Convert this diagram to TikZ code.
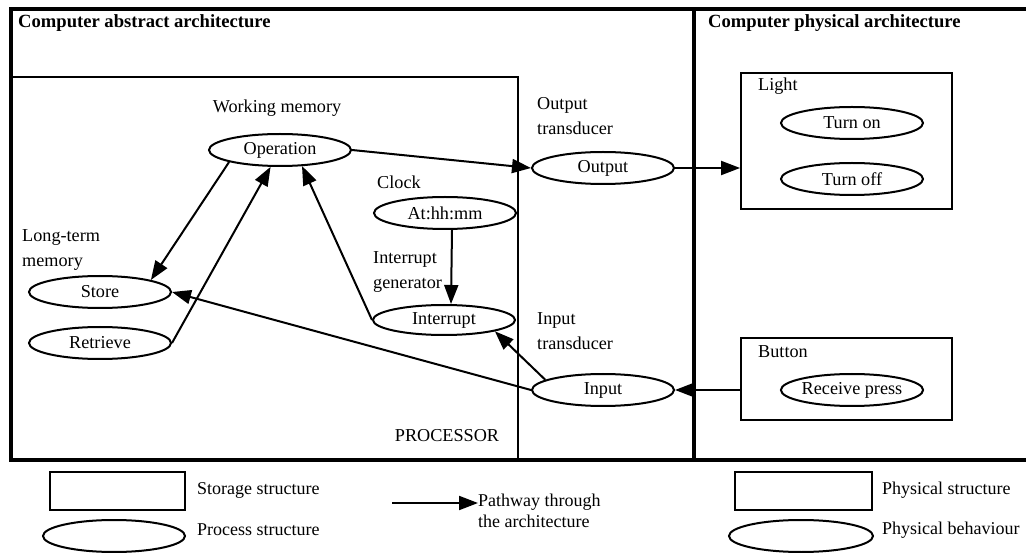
\documentclass[tikz,border=0pt]{standalone}
\usepackage{fontspec}
\setmainfont{Liberation Serif}
\usetikzlibrary{shapes.geometric,arrows.meta,calc}
\newcommand{\lblfont}{\fontsize{18.2}{25}\selectfont}
\newcommand{\legfont}{\fontsize{18}{21}\selectfont}
\newcommand{\ttlfont}{\fontsize{18.6}{22}\selectfont\bfseries}
\begin{document}
\begin{tikzpicture}[x=1pt,y=-1pt,
  proc/.style={ellipse, draw, line width=2pt, minimum width=142pt, minimum height=32pt, inner sep=0pt, font=\lblfont},
  physbox/.style={draw, line width=1.8pt, inner sep=0pt},
  arr/.style={-{Triangle[length=19pt,width=14pt]}, line width=2pt},
  lbl/.style={inner sep=0pt, font=\lblfont, align=left},
  leg/.style={inner sep=0pt, font=\legfont, align=left, anchor=west},
  ttl/.style={inner sep=0pt, font=\ttlfont, anchor=west}]
\useasboundingbox (0,0) rectangle (1026,553);
\fill[white] (0,0) rectangle (1026,553);
% frames
\draw[line width=3.2pt] (1040,9) -- (11,9) -- (11,460) -- (1040,460);
\draw[line width=3.2pt] (694,9) -- (694,460);
\draw[line width=2pt] (11,77) rectangle (518,460);
% titles
\node[ttl] (t1) at (18,23) {Computer abstract architecture};
\node[ttl] (t2) at (708,23) {Computer physical architecture};
% labels
\node[lbl] (wm) at (277,108) {Working memory};
\node[lbl, anchor=west] (clkl) at (377,182) {Clock};
\node[lbl, anchor=west] (ltm) at (22,250) {Long-term\\memory};
\node[lbl, anchor=west] (igen) at (373,272) {Interrupt\\generator};
\node[lbl] (procl) at (447,436) {PROCESSOR};
\node[lbl, anchor=west] (otr) at (537,116) {Output\\transducer};
\node[lbl, anchor=west] (itr) at (537,331) {Input\\transducer};
% physical boxes
\node[physbox, minimum width=211pt, minimum height=136pt] (light) at (846.5,141) {};
\node[physbox, minimum width=211pt, minimum height=82pt] (button) at (846.5,379) {};
\node[lbl, anchor=west] (lightl) at (758,86) {Light};
\node[lbl, anchor=west] (buttonl) at (758,352) {Button};
% processes
\node[proc] (op) at (280,150) {Operation};
\node[proc] (clk) at (445,213) {At:hh:mm};
\node[proc] (store) at (100,292) {Store};
\node[proc] (ret) at (100,343) {Retrieve};
\node[proc, minimum height=30pt] (intr) at (444,320) {Interrupt};
\node[proc] (out) at (603,168) {Output};
\node[proc] (inp) at (603,390) {Input};
\node[proc] (ton) at (852,123) {Turn on};
\node[proc] (toff) at (852,179) {Turn off};
\node[proc] (rp) at (852,390) {Receive press};
% connectors
\draw[arr] (op.east) -- (out.west);
\draw[arr] (out.east) -- (out.east -| light.west);
\draw[arr] (op.south west) -- (store.north east);
\draw[arr] (ret.east) -- (op);
\draw[arr] (intr.west) -- ([xshift=22pt,yshift=1pt]op.south);
\draw[arr] ([xshift=7pt]clk.south) -- ([xshift=7pt]intr.north);
\draw[arr] (inp.170) -- (intr.south east);
\draw[arr] (inp.west) -- (store.east);
\draw[arr] (button.west |- rp.east) -- (inp.east);
% legend
\node[physbox, minimum width=135pt, minimum height=38pt] (lg1) at (117.5,491) {};
\node[leg] (lg1t) at (197,490) {Storage structure};
\node[proc] (lg2) at (114,536) {};
\node[leg] (lg2t) at (197,530) {Process structure};
\coordinate (lga) at (392,503);
\node[leg] (lg3t) at (478,511) {Pathway through\\the architecture};
\draw[arr] (lga) -- (lg3t.west |- lga);
\node[physbox, minimum width=137pt, minimum height=38pt] (lg4) at (803.5,491) {};
\node[leg] (lg4t) at (882,490) {Physical structure};
\node[proc, minimum width=144pt] (lg5) at (801,536) {};
\node[leg] (lg5t) at (882,530) {Physical behaviour};
\end{tikzpicture}
\end{document}
